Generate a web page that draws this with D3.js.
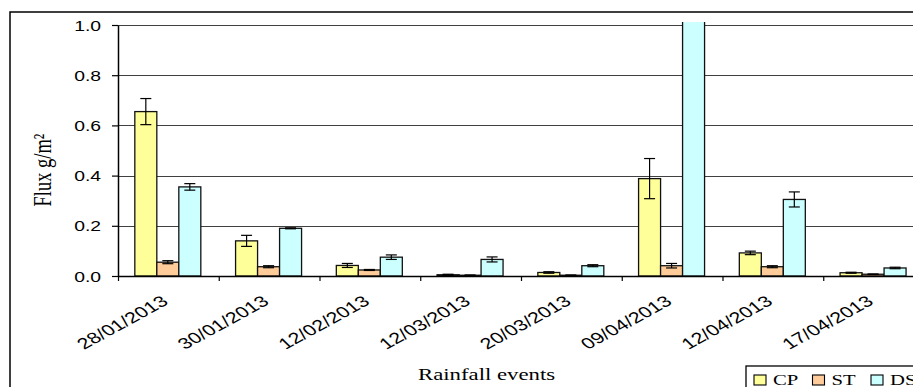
<!DOCTYPE html>
<html>
<head>
<meta charset="utf-8">
<script src="https://cdn.jsdelivr.net/npm/d3@7"></script>
<style>
  html, body { margin: 0; padding: 0; background: #fff; }
  svg { display: block; }
</style>
</head>
<body>
<svg id="chart" width="913" height="387"></svg>
<script>
// ---- data ----
const categories = ["28/01/2013", "30/01/2013", "12/02/2013", "12/03/2013", "20/03/2013", "09/04/2013", "12/04/2013", "17/04/2013"];
const seriesNames = ["CP", "ST", "DS"];
const cpValues = [0.655, 0.140, 0.042, 0.005, 0.014, 0.388, 0.092, 0.013];
const cpErrors = [0.052, 0.022, 0.008, 0.002, 0.003, 0.080, 0.007, 0.002];
const stValues = [0.055, 0.037, 0.024, 0.003, 0.003, 0.041, 0.037, 0.007];
const stErrors = [0.006, 0.004, 0.002, 0.001, 0.001, 0.009, 0.004, 0.001];
const dsValues = [0.355, 0.190, 0.075, 0.066, 0.041, 1.200, 0.305, 0.032];
const dsErrors = [0.013, 0.002, 0.009, 0.010, 0.004, 0.000, 0.030, 0.003];
const yTicks = [0.0, 0.2, 0.4, 0.6, 0.8, 1.0];
const colors = ["#FFFF99", "#FFCC99", "#CCFFFF"];

const seriesValues = [cpValues, stValues, dsValues];
const seriesErrors = [cpErrors, stErrors, dsErrors];

// ---- layout ----
const SX = 1.38; // horizontal stretch of the original picture
const svg = d3.select("#chart");
const pLeft = 118, pRight = 924, pTop = 25, pBottom = 276;

const x = d3.scaleBand().domain(categories).range([pLeft, pRight]).paddingInner(0).paddingOuter(0);
const xs = d3.scaleBand().domain(seriesNames).range([x.bandwidth() * 0.167, x.bandwidth() * 0.822]).padding(0);
const y = d3.scaleLinear().domain([0, 1]).range([pBottom, pTop]);
const xIdx = d3.scaleLinear().domain([0, categories.length]).range([pLeft, pRight]);

// outer frame
svg.append("rect")
  .attr("x", 10).attr("y", 12).attr("width", 960).attr("height", 420)
  .attr("fill", "#fff").attr("stroke", "#000").attr("stroke-width", 1.5);

// clip for plot
svg.append("defs").append("clipPath").attr("id", "plotclip")
  .append("rect").attr("x", pLeft).attr("y", y(1) - 3).attr("width", pRight - pLeft).attr("height", pBottom - y(1) + 3);

// gridlines
svg.append("g").selectAll("line").data(yTicks.filter(d => d > 0)).join("line")
  .attr("x1", pLeft).attr("x2", pRight)
  .attr("y1", d => Math.round(y(d)) + 0.5).attr("y2", d => Math.round(y(d)) + 0.5)
  .attr("stroke", "#404040").attr("stroke-width", 1.1);

// bars
const plot = svg.append("g").attr("clip-path", "url(#plotclip)");
const barData = [];
categories.forEach((c, i) => {
  seriesNames.forEach((s, j) => {
    barData.push({ cat: c, ser: s, j: j, v: seriesValues[j][i], e: seriesErrors[j][i] });
  });
});

plot.selectAll("rect.bar").data(barData).join("rect")
  .attr("class", "bar")
  .attr("x", d => x(d.cat) + xs(d.ser))
  .attr("width", xs.bandwidth())
  .attr("y", d => y(d.v))
  .attr("height", d => y(0) - y(d.v))
  .attr("fill", d => colors[d.j])
  .attr("stroke", "#111").attr("stroke-width", 1.3);

// error bars
const capW = 5.5;
const cx = d => x(d.cat) + xs(d.ser) + xs.bandwidth() / 2;
const eb = plot.selectAll("g.err").data(barData.filter(d => d.e > 0)).join("g").attr("class", "err");
eb.append("line")
  .attr("x1", cx).attr("x2", cx)
  .attr("y1", d => y(d.v + d.e)).attr("y2", d => y(Math.max(0, d.v - d.e)))
  .attr("stroke", "#000").attr("stroke-width", 1.2);
eb.append("line")
  .attr("x1", d => cx(d) - capW).attr("x2", d => cx(d) + capW)
  .attr("y1", d => y(d.v + d.e)).attr("y2", d => y(d.v + d.e))
  .attr("stroke", "#000").attr("stroke-width", 1.2);
eb.append("line")
  .attr("x1", d => cx(d) - capW).attr("x2", d => cx(d) + capW)
  .attr("y1", d => y(Math.max(0, d.v - d.e))).attr("y2", d => y(Math.max(0, d.v - d.e)))
  .attr("stroke", "#000").attr("stroke-width", 1.2);

// y axis
const yAxis = svg.append("g").attr("transform", `translate(${pLeft},0)`)
  .call(d3.axisLeft(y).tickValues(yTicks).tickFormat(d3.format(".1f")).tickSize(6).tickSizeOuter(0));
yAxis.select(".domain").attr("stroke", "#000").attr("stroke-width", 1.5);
yAxis.selectAll(".tick line").attr("stroke", "#000").attr("stroke-width", 1.2);
yAxis.selectAll(".tick text")
  .attr("x", 0).attr("dy", "0.36em")
  .attr("transform", `translate(-17,0) scale(${SX},1)`)
  .attr("font-family", "'Liberation Sans', Arial, sans-serif")
  .attr("font-size", 14).attr("fill", "#000");

// x axis (ticks at category boundaries)
const xAxis = svg.append("g").attr("transform", `translate(0,${pBottom})`)
  .call(d3.axisBottom(xIdx).tickValues(d3.range(0, categories.length + 1)).tickFormat("").tickSize(5).tickSizeOuter(0));
xAxis.select(".domain").attr("stroke", "#000").attr("stroke-width", 1.5);
xAxis.selectAll(".tick line").attr("stroke", "#000").attr("stroke-width", 1.2);

// x labels
svg.append("g").selectAll("text").data(categories).join("text")
  .attr("transform", d => `translate(${x(d) + x.bandwidth() / 2 + 1},303.4) scale(${SX},1) rotate(-37)`)
  .attr("text-anchor", "end")
  .attr("font-family", "'Liberation Sans', Arial, sans-serif")
  .attr("font-size", 15.5).attr("fill", "#000")
  .text(d => d);

// axis titles
svg.append("text")
  .attr("transform", `translate(418,380) scale(${SX},1)`)
  .attr("font-family", "'Liberation Serif', 'Times New Roman', serif")
  .attr("font-size", 16.5).attr("fill", "#000")
  .text("Rainfall events");

svg.append("text")
  .attr("transform", `translate(51,170) scale(${SX},1) rotate(-90)`)
  .attr("text-anchor", "middle")
  .attr("font-family", "'Liberation Serif', 'Times New Roman', serif")
  .attr("font-size", 18.5).attr("fill", "#000")
  .text("Flux g/m²");

// legend
const lg = svg.append("g");
lg.append("rect").attr("x", 746).attr("y", 366).attr("width", 220).attr("height", 40)
  .attr("fill", "#fff").attr("stroke", "#000").attr("stroke-width", 1.3);
const li = lg.selectAll("g.item").data(seriesNames).join("g").attr("class", "item")
  .attr("transform", (d, i) => `translate(${754 + i * 58.5},375)`);
li.append("rect").attr("width", 12).attr("height", 10)
  .attr("fill", (d, i) => colors[i]).attr("stroke", "#000").attr("stroke-width", 1.1);
li.append("text")
  .attr("transform", `translate(19,10) scale(${SX},1)`)
  .attr("font-family", "'Liberation Serif', 'Times New Roman', serif")
  .attr("font-size", 15).attr("fill", "#000")
  .text(d => d);
</script>
</body>
</html>
